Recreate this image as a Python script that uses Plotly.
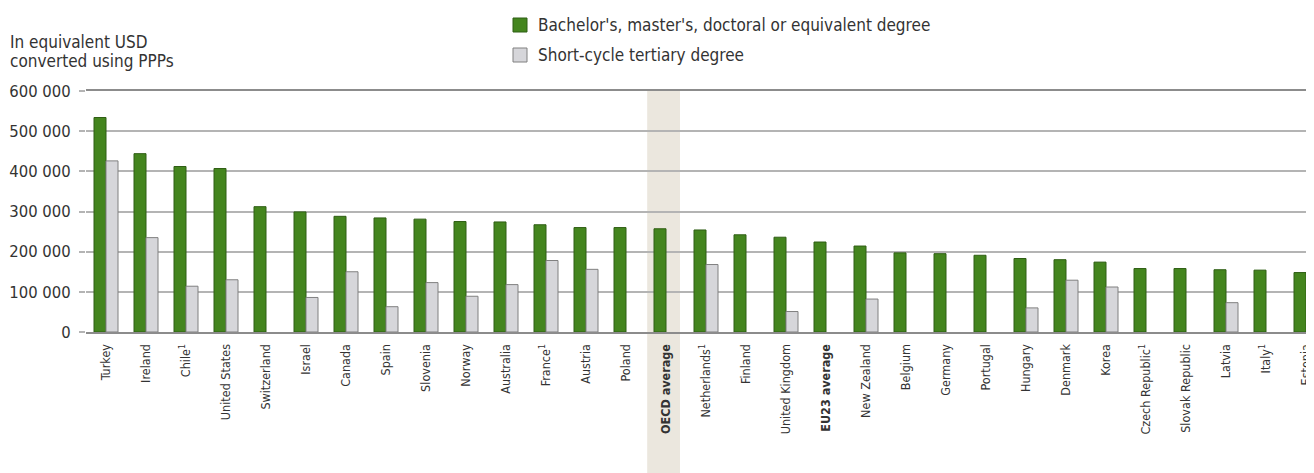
import plotly.graph_objects as go

countries = [
    "Turkey", "Ireland", "Chile<sup>1</sup>", "United States", "Switzerland",
    "Israel", "Canada", "Spain", "Slovenia", "Norway", "Australia",
    "France<sup>1</sup>", "Austria", "Poland", "<b>OECD average</b>",
    "Netherlands<sup>1</sup>", "Finland", "United Kingdom", "<b>EU23 average</b>",
    "New Zealand", "Belgium", "Germany", "Portugal", "Hungary", "Denmark",
    "Korea", "Czech Republic<sup>1</sup>", "Slovak Republic", "Latvia",
    "Italy<sup>1</sup>", "Estonia",
]

bachelor = [
    534000, 444000, 412000, 407000, 312000, 299000, 288000, 284000, 281000,
    275000, 274000, 267000, 260000, 260000, 257000, 254000, 242000, 236000,
    224000, 214000, 197000, 195000, 191000, 183000, 180000, 174000, 158000,
    158000, 155000, 154000, 148000,
]

short_cycle = [
    426000, 235000, 114000, 130000, None, 86000, 150000, 63000, 123000,
    89000, 118000, 178000, 156000, None, None, 168000, None, 51000,
    None, 82000, None, None, None, 60000, 129000, 112000, None,
    None, 73000, None, None,
]

series_names = [
    "Bachelor's, master's, doctoral or equivalent degree",
    "Short-cycle tertiary degree",
]
title_lines = ["In equivalent USD", "converted using PPPs"]
fills = ["#44851e", "#d6d6da"]
edges = ["#2f5e14", "#808080"]

font_family = "DejaVu Sans Condensed, Liberation Sans, sans-serif"

# the page body adds an 8 px offset, so the figure is 8 px smaller
off = 8
W, H = 1314 - off, 473 - off
left, top, bottom = 86 - off, 91 - off, 332 - off
plot_w = W - left
plot_h = bottom - top


def px_x(x):
    return (x - off - left) / plot_w


def px_y(y):
    return (bottom - (y - off)) / plot_h


fig = go.Figure()
for name, vals, fc, lc in zip(series_names, [bachelor, short_cycle], fills, edges):
    fig.add_trace(go.Bar(
        x=countries, y=vals, name=name,
        marker=dict(color=fc, line=dict(color=lc, width=1)),
    ))

# OECD average highlight band
fig.add_shape(
    type="rect", xref="x", yref="paper",
    x0=13.53, x1=14.35, y0=px_y(480), y1=1,
    fillcolor="#ebe7de", line=dict(width=0), layer="below",
)

# legend drawn by hand so it stays in the top margin
for i, (name, fc, lc) in enumerate(zip(series_names, fills, edges)):
    y0 = 18 + 30 * i
    fig.add_shape(
        type="rect", xref="paper", yref="paper",
        x0=px_x(513), x1=px_x(527), y0=px_y(y0 + 14), y1=px_y(y0),
        fillcolor=fc, line=dict(color=lc, width=1),
    )
    fig.add_annotation(
        text=name, xref="paper", yref="paper",
        x=px_x(536), y=px_y(y0 + 7), xanchor="left", yanchor="middle",
        showarrow=False, font=dict(family=font_family, size=17, color="#333333"),
    )

for i, line in enumerate(title_lines):
    fig.add_annotation(
        text=line, xref="paper", yref="paper", x=px_x(8), y=px_y(42 + 19 * i),
        xanchor="left", yanchor="middle", showarrow=False,
        font=dict(family=font_family, size=17, color="#333333"),
    )

fig.update_layout(
    width=W, height=H,
    margin=dict(l=left, r=0, t=top, b=H - bottom),
    paper_bgcolor="white", plot_bgcolor="white",
    barmode="group", bargap=0.4, bargroupgap=0,
    separators=". ",
    font=dict(family=font_family, color="#333333"),
    showlegend=False,
)

fig.update_xaxes(
    range=[(left + off - 106) / 40, (W + off - 106) / 40],
    tickangle=-90, tickfont=dict(size=12.5, color="#333333"),
    showline=True, mirror=True, linecolor="#8c8c8c", linewidth=2,
    ticks="", ticklabelstandoff=5, ticklabeloverflow="allow",
    showgrid=False, automargin=False,
)
fig.update_yaxes(
    range=[0, 600000], dtick=100000, tickformat=",d",
    tickfont=dict(size=16.5, color="#333333"),
    gridcolor="#b4b4b4", gridwidth=1.5,
    ticks="outside", ticklen=6, tickcolor="#b4b4b4", tickwidth=1.5,
    ticklabelstandoff=5,
    zeroline=False, showline=False, automargin=False,
)

fig.write_html("out.html")
